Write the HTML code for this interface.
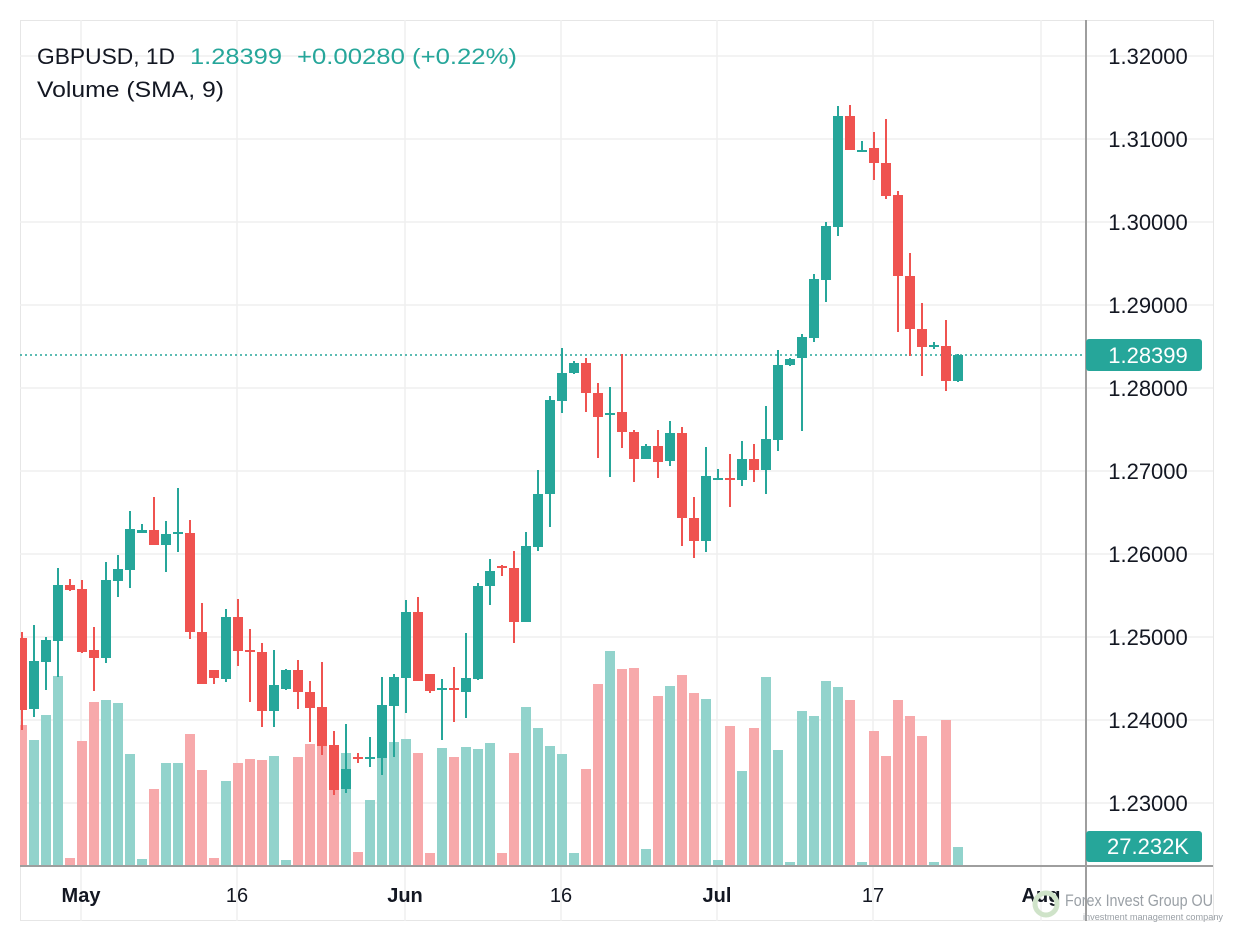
<!DOCTYPE html>
<html><head><meta charset="utf-8"><style>
html,body{margin:0;padding:0;background:#fff;}
svg{display:block;font-family:"Liberation Sans",sans-serif;}
</style></head><body>
<svg id="s" width="1234" height="943" viewBox="0 0 1234 943" xmlns="http://www.w3.org/2000/svg">
<defs><clipPath id="pc"><rect x="20" y="20" width="1066" height="846"/></clipPath></defs>
<rect x="20.5" y="20.5" width="1193" height="900" fill="#fff" stroke="#e6e6e6"/>
<g id="grid" stroke="#efefef" stroke-width="1.5"></g>
<g id="vol" clip-path="url(#pc)"></g>
<line x1="20" y1="355" x2="1086" y2="355" stroke="#26a69a" stroke-width="1.5" stroke-dasharray="2,3"/>
<g id="cdl" clip-path="url(#pc)"></g>
<line x1="1086" y1="20" x2="1086" y2="921" stroke="#9e9e9e" stroke-width="2"/>
<line x1="20" y1="866" x2="1213" y2="866" stroke="#9e9e9e" stroke-width="2"/>
<g id="plab" font-size="22" fill="#131722" text-anchor="middle"></g>
<rect x="1086" y="339" width="116" height="32" rx="3" fill="#26a69a"/>
<text x="1148" y="363" font-size="22" fill="#fff" text-anchor="middle">1.28399</text>
<rect x="1086" y="831" width="116" height="31" rx="3" fill="#26a69a"/>
<text x="1148" y="854" font-size="22" fill="#fff" text-anchor="middle">27.232K</text>
<g font-size="20" fill="#131722" text-anchor="middle">
<text x="81" y="902" font-weight="bold">May</text>
<text x="237" y="902">16</text>
<text x="405" y="902" font-weight="bold">Jun</text>
<text x="561" y="902">16</text>
<text x="717" y="902" font-weight="bold">Jul</text>
<text x="873" y="902">17</text>
<text x="1041" y="902" font-weight="bold">Aug</text>
</g>
<circle cx="1046" cy="904" r="11" fill="none" stroke="#cfe3c9" stroke-width="5"/>
<text x="1065" y="906" font-size="17" fill="#9aa0a6" textLength="148" lengthAdjust="spacingAndGlyphs">Forex Invest Group OU</text>
<text x="1083" y="920" font-size="9" fill="#9aa0a6" textLength="140" lengthAdjust="spacingAndGlyphs">investment management company</text>
<g font-size="22">
<text x="37" y="64" fill="#131722" textLength="138" lengthAdjust="spacingAndGlyphs">GBPUSD, 1D</text>
<text x="190" y="64" fill="#26a69a" textLength="92" lengthAdjust="spacingAndGlyphs">1.28399</text>
<text x="297" y="64" fill="#26a69a" textLength="220" lengthAdjust="spacingAndGlyphs">+0.00280 (+0.22%)</text>
<text x="37" y="97" fill="#131722" textLength="187" lengthAdjust="spacingAndGlyphs">Volume (SMA, 9)</text>
</g>
</svg>
<script>
var NS="http://www.w3.org/2000/svg";
function el(p,t,a){var e=document.createElementNS(NS,t);for(var k in a)e.setAttribute(k,a[k]);document.getElementById(p).appendChild(e);}
var ys=[56,139,222,305,388,471,554,637,720,803],labs=["1.32000","1.31000","1.30000","1.29000","1.28000","1.27000","1.26000","1.25000","1.24000","1.23000"];
ys.forEach(function(y,i){el("grid","line",{x1:20,y1:y,x2:1213,y2:y});var t=document.createElementNS(NS,"text");t.setAttribute("x",1148);t.setAttribute("y",y+8);t.textContent=labs[i];document.getElementById("plab").appendChild(t);});
[81,237,405,561,717,873,1041].forEach(function(x){el("grid","line",{x1:x,y1:20,x2:x,y2:921});});
var D=[
[638,710,632,730,725,0],[661,709,625,717,740,1],[640,662,637,690,715,1],[585,641,568,677,676,1],[585,590,579,591,858,0],
[589,652,580,653,741,0],[650,658,627,691,702,0],[580,658,562,663,700,1],[569,581,555,597,703,1],[529,570,511,588,754,1],
[530,533,524,533,859,1],[530,545,497,545,789,0],[534,545,521,572,763,1],[532,534,488,552,763,1],[533,632,520,639,734,0],
[632,684,603,684,770,0],[670,678,670,684,858,0],[617,679,609,682,781,1],[617,651,599,666,763,0],[650,652,629,702,759,0],
[652,711,643,727,760,0],[685,711,650,727,756,1],[670,689,669,690,860,1],[670,692,660,709,757,0],[692,708,681,742,744,0],
[707,746,662,755,746,0],[745,790,731,795,790,0],[769,789,724,793,753,1],[757,759,753,763,852,0],[757,759,737,767,800,1],
[705,758,677,775,743,1],[677,706,674,757,742,1],[612,678,600,713,739,1],[612,681,597,681,753,0],[674,691,674,693,853,0],
[688,690,679,740,748,1],[688,690,667,722,757,0],[678,692,633,718,747,1],[586,679,583,680,749,1],[571,586,559,605,743,1],
[566,568,565,576,853,0],[568,622,551,643,753,0],[546,622,532,622,707,1],[494,547,470,551,728,1],[400,494,396,527,746,1],
[373,401,348,413,754,1],[363,373,361,374,853,1],[363,393,358,412,769,0],[393,417,383,458,684,0],[413,415,387,477,651,1],
[412,432,354,448,669,0],[432,459,430,482,668,0],[446,459,444,459,849,1],[446,462,430,478,696,0],[433,461,421,466,686,1],
[433,518,427,546,675,0],[518,541,497,558,693,0],[476,541,447,552,699,1],[478,480,469,480,860,1],[478,480,454,507,726,0],
[459,480,441,486,771,1],[459,470,444,482,728,0],[439,470,406,494,677,1],[365,440,350,451,750,1],[359,365,358,366,862,1],
[337,358,334,431,711,1],[279,338,274,342,716,1],[226,280,222,302,681,1],[116,227,106,236,687,1],[116,150,105,150,700,0],
[150,152,141,152,862,1],[148,163,132,180,731,0],[163,196,119,199,756,0],[195,276,191,332,700,0],[276,329,253,356,716,0],
[329,347,303,376,736,0],[345,347,342,349,862,1],[346,381,320,391,720,0],[355,381,354,382,847,1]];
D.forEach(function(d,i){var x=22+i*12;var c=d[5]?"#26a69a":"#ef5350",vc=d[5]?"#92d3cc":"#f7a9ab";
el("vol","rect",{x:x-5,y:d[4],width:10,height:865-d[4],fill:vc});
el("cdl","rect",{x:x-1,y:d[2],width:2,height:Math.max(1,d[3]-d[2]),fill:c});
el("cdl","rect",{x:x-5,y:d[0],width:10,height:Math.max(2,d[1]-d[0]),fill:c});});
</script>
</body></html>
